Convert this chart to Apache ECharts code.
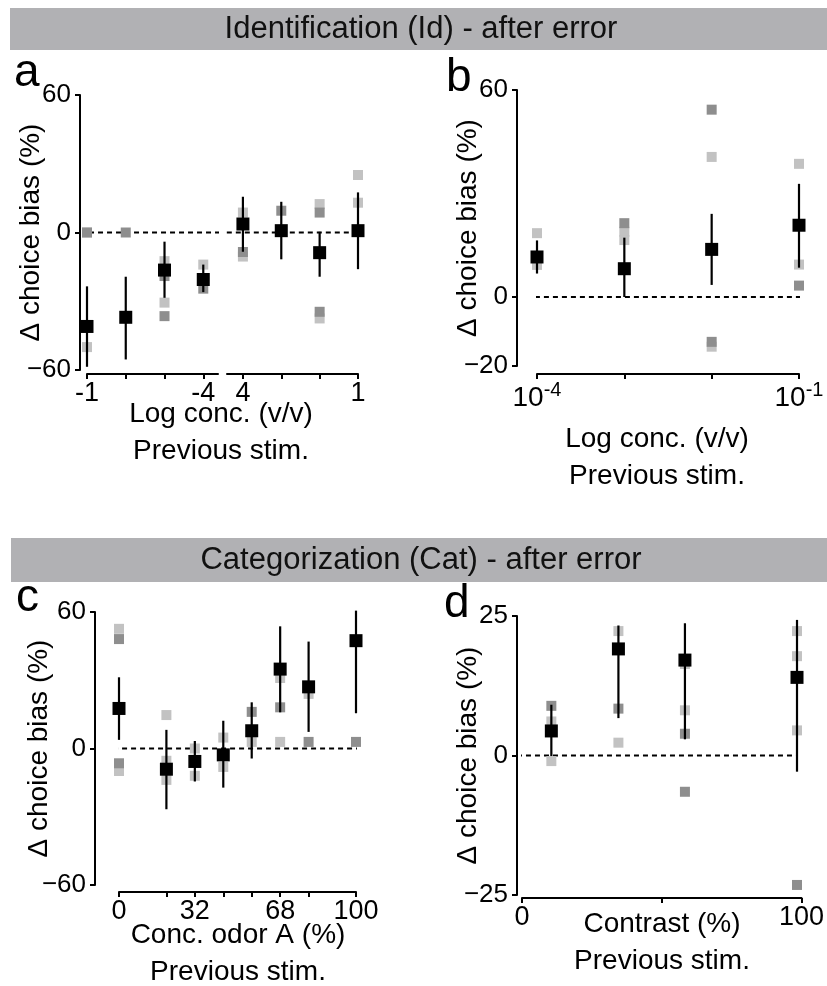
<!DOCTYPE html>
<html><head><meta charset="utf-8">
<script src="https://cdn.jsdelivr.net/npm/echarts@6/dist/echarts.min.js"></script>
<style>html,body{margin:0;padding:0;background:#fff}#c{width:827px;height:986px}</style>
</head><body><div id="c"></div>
<script>
// ---------- Panel a (Identification, log conc.; axis broken between -4 and 4) ----------
const aX = [0, 1, 2, 3, 4, 5, 6, 7];
const aTickLabels = ['-1', '', '', '-4', '4', '', '', '1'];
const aMean = [-41, -37, -16.4, -20.5, 3.7, 0.8, -8.8, 0.8];
const aHi = [-23.5, -19.3, -4, -14, 15.6, 13.4, 0.3, 17.5];
const aLo = [-58.6, -55.4, -28.5, -26, -8.4, -11.7, -19.3, -16];
const aLight = [[0, 0], [0, -50], [2, -12.5], [2, -30.6], [3, -14], [4, 8.7], [4, -10.5], [6, 12.4], [6, -37.5], [7, 25.1], [7, 13]];
const aDark = [[0, 0], [1, 0], [2, -19], [2, -36.5], [3, -24.5], [4, -8.5], [5, 9.5], [6, 8.7], [6, -34.6]];

// ---------- Panel b (Identification, 10^-4 .. 10^-1) ----------
const bX = [-4, -3, -2, -1];
const bMean = [11.6, 8.2, 13.8, 20.8];
const bHi = [16.4, 17.2, 24.1, 32.8];
const bLo = [6.8, 0, 3.5, 8.5];
const bLight = [[-4, 18.5], [-4, 9.3], [-3, 18.9], [-3, 16.5], [-2, 40.6], [-2, -14.4], [-1, 38.6], [-1, 9.4]];
const bDark = [[-3, 21.4], [-2, 54.3], [-2, -13], [-1, 3.3]];
const bTickLabels = { '-4': '-4', '-1': '-1' };

// ---------- Panel c (Categorization, conc. odor A) ----------
const cX = [0, 20, 32, 44, 56, 68, 80, 100];
const cLabelValues = [0, 32, 68, 100];
const cMean = [17.6, -9.1, -5.7, -2.8, 7.8, 34.9, 27.1, 47.4];
const cHi = [31.3, 8.2, 3.3, 12.2, 20.3, 53.7, 47, 60.6];
const cLo = [3.8, -26.7, -14.5, -17.2, -4.4, 15.9, 7.3, 15.5];
const cLight = [[0, 52.6], [0, -9.9], [20, 14.7], [20, -5.4], [20, -13.8], [32, 0], [32, -12], [44, 4.8], [44, -8.1], [56, 2.9], [68, 2.9], [68, 31], [80, 24]];
const cDark = [[0, 48.1], [0, -6.5], [32, -5], [56, 16.1], [68, 18.1], [80, 2.9], [100, 2.9]];

// ---------- Panel d (Categorization, contrast) ----------
const dX = [10.5, 34.5, 58.3, 98.4];
const dLabelValues = [0, 100];
const dMean = [4.4, 19.1, 17.1, 14.0];
const dHi = [9.1, 23.3, 23.7, 24.3];
const dLo = [-0.1, 6.7, 2.9, -2.9];
const dLight = [[10.5, 6.1], [10.5, -1], [34.5, 22.3], [34.5, 2.3], [58.3, 16.4], [58.3, 8.1], [98.4, 22.3], [98.4, 17.8], [98.4, 4.5]];
const dDark = [[10.5, 8.9], [34.5, 8.4], [58.3, 3.9], [58.3, -6.5], [98.4, -23.2]];

const FONT = 'Liberation Sans, Arial, Helvetica, sans-serif';
const LIGHT = '#c2c2c2';
const DARK = '#8e8e8e';
const minus = s => String(s).replace('-', '\u2212');

const chart = echarts.init(document.getElementById('c'), null, { renderer: 'canvas' });

function xAxisBase(grid, min, max, offset, tickVals, labelVals, fmt) {
  return {
    type: 'value', gridIndex: grid, min: min, max: max, offset: offset,
    splitLine: { show: false },
    axisLine: { show: true, onZero: false, lineStyle: { color: '#000', width: 2 } },
    axisTick: { show: true, length: 5, customValues: tickVals, lineStyle: { color: '#000', width: 2 } },
    axisLabel: { show: true, customValues: labelVals, formatter: fmt, color: '#000', fontSize: 27, fontFamily: FONT, margin: 6 }
  };
}
function yAxisBase(grid, min, max, offset, vals, gap) {
  return {
    type: 'value', gridIndex: grid, min: min, max: max, offset: offset,
    splitLine: { show: false },
    axisLine: { show: true, onZero: false, lineStyle: { color: '#000', width: 2 } },
    axisTick: { show: true, length: 5, customValues: vals, lineStyle: { color: '#000', width: 2 } },
    axisLabel: { show: true, customValues: vals, formatter: v => minus(v), color: '#000', fontSize: 26, fontFamily: FONT, margin: 9 },
    name: '\u0394 choice bias (%)', nameLocation: 'middle', nameGap: gap, nameMoveOverlap: false,
    nameTextStyle: { color: '#000', fontSize: 28, fontFamily: FONT }
  };
}

function pts(xi, yi, data, color, size, z) {
  return { type: 'scatter', xAxisIndex: xi, yAxisIndex: yi, data: data, symbol: 'rect', symbolSize: size,
    itemStyle: { color: color, opacity: 1 }, z: z, clip: false, silent: true };
}
function errBars(xi, yi, xs, lo, hi) {
  return {
    type: 'custom', xAxisIndex: xi, yAxisIndex: yi, z: 4, clip: false, silent: true,
    data: xs.map((x, i) => [x, lo[i], hi[i]]),
    encode: { x: 0, y: [1, 2] },
    renderItem: (params, api) => {
      const p1 = api.coord([api.value(0), api.value(1)]);
      const p2 = api.coord([api.value(0), api.value(2)]);
      return { type: 'line', shape: { x1: p1[0], y1: p1[1], x2: p2[0], y2: p2[1] }, style: { stroke: '#000', lineWidth: 2.2 } };
    }
  };
}
function zeroLine(xi, yi, x0, x1) {
  return { type: 'line', xAxisIndex: xi, yAxisIndex: yi, data: [[x0, 0], [x1, 0]], symbol: 'none', clip: false,
    silent: true, z: 1, lineStyle: { color: '#000', width: 2, type: [5, 4] } };
}
function means(xi, yi, xs, ys) {
  return pts(xi, yi, xs.map((x, i) => [x, ys[i]]), '#000', 13, 5);
}

const aL = aX.filter(x => x <= 3), aR = aX.filter(x => x >= 4);

const option = {
  animation: false,
  backgroundColor: '#fff',
  grid: [
    { left: 87, top: 95, width: 131, height: 275 },
    { left: 227, top: 95, width: 131, height: 275 },
    { left: 537, top: 90, width: 262, height: 276 },
    { left: 119, top: 612, width: 237, height: 273 },
    { left: 522, top: 616, width: 281, height: 279 }
  ],
  xAxis: [
    xAxisBase(0, 0, 3.38, 4, aL, [0, 3], v => aTickLabels[Math.round(v)]),
    xAxisBase(1, 3.585, 7, 4, aR, [4, 7], v => aTickLabels[Math.round(v)]),
    xAxisBase(2, -4, -1, 8, bX, [-4, -1], v => '{b|10}{s|' + bTickLabels[String(v)] + '}'),
    xAxisBase(3, 0, 100, 7, cX, cLabelValues, v => String(v)),
    xAxisBase(4, 0, 100, 3, [0, 50, 100], dLabelValues, v => String(v))
  ],
  yAxis: [
    yAxisBase(0, -60, 60, 7, [-60, 0, 60], 35),
    { type: 'value', gridIndex: 1, min: -60, max: 60, show: false },
    yAxisBase(2, -20, 60, 20, [-20, 0, 60], 35),
    yAxisBase(3, -60, 60, 24, [-60, 0, 60], 42),
    yAxisBase(4, -25, 25, 5, [-25, 0, 25], 35)
  ],
  graphic: [
    { type: 'rect', shape: { x: 10, y: 8, width: 817, height: 42 }, style: { fill: '#b1b1b4' }, z: 0 },
    { type: 'text', x: 421, y: 29, style: { text: 'Identification (Id) - after error', font: '31px ' + FONT, fill: '#111', textAlign: 'center', textVerticalAlign: 'middle' } },
    { type: 'rect', shape: { x: 11, y: 538, width: 816, height: 44 }, style: { fill: '#b1b1b4' }, z: 0 },
    { type: 'text', x: 421, y: 560, style: { text: 'Categorization (Cat) - after error', font: '31px ' + FONT, fill: '#111', textAlign: 'center', textVerticalAlign: 'middle' } },
    { type: 'text', x: 14, y: 50, style: { text: 'a', font: '46px ' + FONT, fill: '#000', textVerticalAlign: 'top' } },
    { type: 'text', x: 446, y: 55, style: { text: 'b', font: '46px ' + FONT, fill: '#000', textVerticalAlign: 'top' } },
    { type: 'text', x: 16, y: 575, style: { text: 'c', font: '46px ' + FONT, fill: '#000', textVerticalAlign: 'top' } },
    { type: 'text', x: 444, y: 581, style: { text: 'd', font: '46px ' + FONT, fill: '#000', textVerticalAlign: 'top' } },
    { type: 'text', x: 221, y: 396, style: { text: 'Log conc. (v/v)\nPrevious stim.', font: '28px ' + FONT, lineHeight: 37, fill: '#000', textAlign: 'center', textVerticalAlign: 'top' } },
    { type: 'text', x: 657, y: 421, style: { text: 'Log conc. (v/v)\nPrevious stim.', font: '28px ' + FONT, lineHeight: 37, fill: '#000', textAlign: 'center', textVerticalAlign: 'top' } },
    { type: 'text', x: 238, y: 917, style: { text: 'Conc. odor A (%)\nPrevious stim.', font: '28px ' + FONT, lineHeight: 37, fill: '#000', textAlign: 'center', textVerticalAlign: 'top' } },
    { type: 'text', x: 662, y: 906, style: { text: 'Contrast (%)\nPrevious stim.', font: '28px ' + FONT, lineHeight: 37, fill: '#000', textAlign: 'center', textVerticalAlign: 'top' } }
  ],
  series: [
    // panel a
    zeroLine(0, 0, -0.18, 3.62), zeroLine(1, 1, 3.58, 7.1),
    pts(0, 0, aLight.filter(p => p[0] <= 3), LIGHT, 10, 2), pts(0, 0, aDark.filter(p => p[0] <= 3), DARK, 10, 3),
    pts(1, 1, aLight.filter(p => p[0] >= 4), LIGHT, 10, 2), pts(1, 1, aDark.filter(p => p[0] >= 4), DARK, 10, 3),
    errBars(0, 0, aL, aLo.slice(0, 4), aHi.slice(0, 4)), errBars(1, 1, aR, aLo.slice(4), aHi.slice(4)),
    means(0, 0, aL, aMean.slice(0, 4)), means(1, 1, aR, aMean.slice(4)),
    // panel b
    zeroLine(2, 2, -4.23, -0.95),
    pts(2, 2, bLight, LIGHT, 10, 2), pts(2, 2, bDark, DARK, 10, 3),
    errBars(2, 2, bX, bLo, bHi), means(2, 2, bX, bMean),
    // panel c
    zeroLine(3, 3, -10.1, 110),
    pts(3, 3, cLight, LIGHT, 10, 2), pts(3, 3, cDark, DARK, 10, 3),
    errBars(3, 3, cX, cLo, cHi), means(3, 3, cX, cMean),
    // panel d
    zeroLine(4, 4, -1.8, 98.4),
    pts(4, 4, dLight, LIGHT, 10, 2), pts(4, 4, dDark, DARK, 10, 3),
    errBars(4, 4, dX, dLo, dHi), means(4, 4, dX, dMean)
  ]
};
option.xAxis[2].axisLabel.rich = {
  b: { fontSize: 28, fontFamily: FONT, color: '#000', lineHeight: 32, verticalAlign: 'bottom' },
  s: { fontSize: 20, fontFamily: FONT, color: '#000', lineHeight: 32, verticalAlign: 'top', padding: [0, 0, 12, 0] }
};
chart.setOption(option);
</script></body></html>
